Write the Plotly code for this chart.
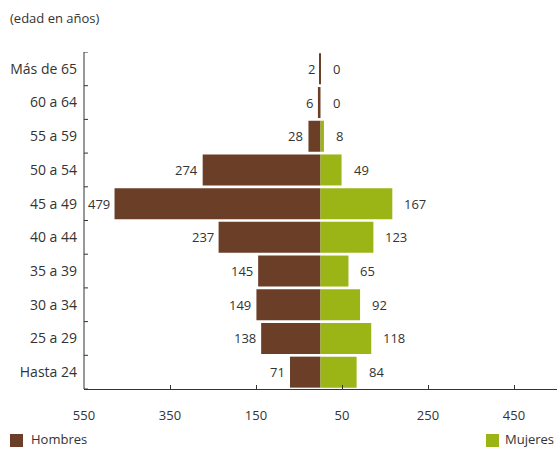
import plotly.graph_objects as go

categories = ["Hasta 24", "25 a 29", "30 a 34", "35 a 39", "40 a 44",
              "45 a 49", "50 a 54", "55 a 59", "60 a 64", "Más de 65"]
hombres = [71, 138, 149, 145, 237, 479, 274, 28, 6, 2]
mujeres = [84, 118, 92, 65, 123, 167, 49, 8, 0, 0]
tick_vals = [-550, -350, -150, 50, 250, 450]
tick_text = ["550", "350", "150", "50", "250", "450"]

BROWN = "#6b3e28"
GREEN = "#9bb517"
TXT = "#333333"
FONT = "Open Sans"

W, H = 558, 449
L, R, T, B = 84, 1, 52, 60
PW, PH = W - L - R, H - T - B


def px(x):
    return (x - L) / PW


def py(y):
    return (H - B - y) / PH


fig = go.Figure()
fig.add_trace(go.Bar(y=categories, x=[-v for v in hombres], orientation="h",
                     name="Hombres", marker=dict(color=BROWN, line=dict(width=0)),
                     hoverinfo="skip", showlegend=False))
fig.add_trace(go.Bar(y=categories, x=mujeres, orientation="h",
                     name="Mujeres", marker=dict(color=GREEN, line=dict(width=0)),
                     hoverinfo="skip", showlegend=False))

annotations = []
for c, h, m in zip(categories, hombres, mujeres):
    annotations.append(dict(x=-h, y=c, text=str(h), showarrow=False, xanchor="right",
                            xshift=-3, font=dict(family=FONT, size=13, color=TXT)))
    annotations.append(dict(x=m, y=c, text=str(m), showarrow=False, xanchor="left",
                            xshift=10, font=dict(family=FONT, size=13, color=TXT)))
annotations.append(dict(xref="paper", yref="paper", x=px(8), y=py(18),
                        text="(edad en años)", showarrow=False,
                        xanchor="left", yanchor="middle",
                        font=dict(family=FONT, size=13, color=TXT)))
# manual legend
annotations.append(dict(xref="paper", yref="paper", x=px(29), y=py(439),
                        text="Hombres", showarrow=False, xanchor="left",
                        yanchor="middle", font=dict(family=FONT, size=13, color=TXT)))
annotations.append(dict(xref="paper", yref="paper", x=px(503), y=py(439),
                        text="Mujeres", showarrow=False, xanchor="left",
                        yanchor="middle", font=dict(family=FONT, size=13, color=TXT)))
shapes = [
    dict(type="rect", xref="paper", yref="paper", x0=px(10), x1=px(23),
         y0=py(447), y1=py(434), fillcolor=BROWN, line=dict(width=0)),
    dict(type="rect", xref="paper", yref="paper", x0=px(486), x1=px(499),
         y0=py(447), y1=py(434), fillcolor=GREEN, line=dict(width=0)),
    # left axis line
    dict(type="line", xref="paper", yref="paper", x0=0, x1=0, y0=0, y1=1,
         line=dict(color=TXT, width=1)),
]
# y-axis tick marks at category boundaries
for i in range(len(categories) + 1):
    shapes.append(dict(type="line", xref="paper", yref="y", x0=0, x1=px(L + 4),
                       y0=i - 0.5, y1=i - 0.5, line=dict(color=TXT, width=1)))

fig.update_layout(
    width=W, height=H,
    margin=dict(l=L, r=R, t=T, b=B, autoexpand=False),
    paper_bgcolor="white", plot_bgcolor="white",
    barmode="relative", bargap=0.08,
    font=dict(family=FONT, size=13, color=TXT),
    showlegend=False,
    annotations=annotations,
    shapes=shapes,
)
fig.update_xaxes(range=[-550, 550], tickvals=tick_vals, ticktext=tick_text,
                 showgrid=False, zeroline=False, showline=True, linecolor=TXT,
                 linewidth=1, ticks="inside", ticklen=4, tickcolor=TXT,
                 ticklabelstandoff=14, fixedrange=True, automargin=False)
fig.update_yaxes(categoryorder="array", categoryarray=categories,
                 range=[-0.5, len(categories) - 0.5],
                 showgrid=False, zeroline=False, showline=False,
                 ticks="", ticklabelstandoff=6, fixedrange=True,
                 automargin=False, tickfont=dict(size=14))

fig.write_html("out.html")
